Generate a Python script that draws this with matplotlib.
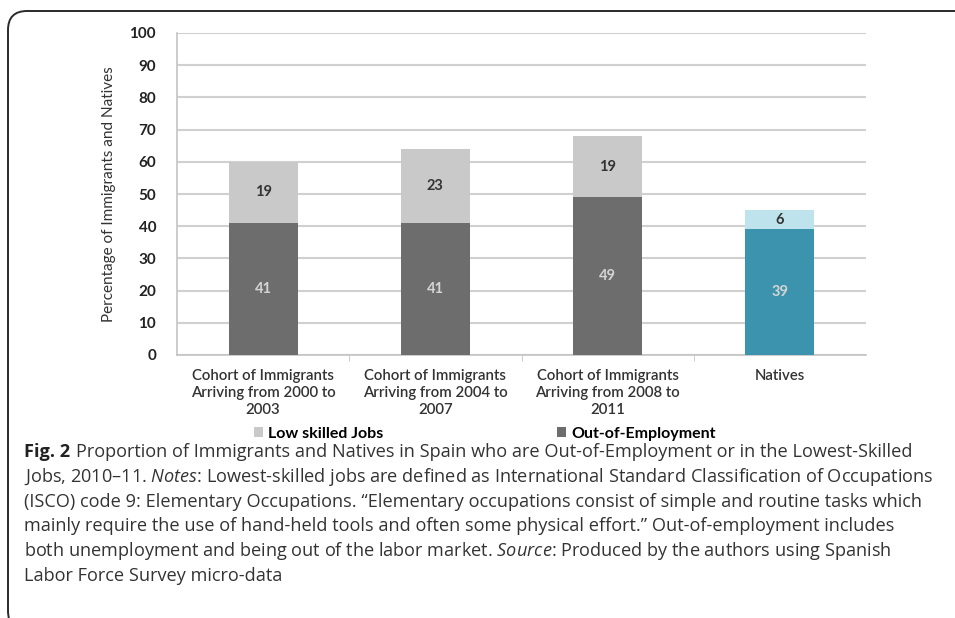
import matplotlib
matplotlib.use("Agg")
import matplotlib.pyplot as plt
from matplotlib.patches import FancyBboxPatch

categories = ["Cohort of Immigrants\nArriving from 2000 to\n2003",
              "Cohort of Immigrants\nArriving from 2004 to\n2007",
              "Cohort of Immigrants\nArriving from 2008 to\n2011",
              "Natives"]
out_of_employment = [41, 41, 49, 39]
low_skilled = [19, 23, 19, 6]

caption_lines = [
    "Proportion of Immigrants and Natives in Spain who are Out-of-Employment or in the Lowest-Skilled",
    "Jobs, 2010\u201311. $\\it{Notes}$: Lowest-skilled jobs are defined as International Standard Classification of Occupations",
    "(ISCO) code 9: Elementary Occupations. \u201cElementary occupations consist of simple and routine tasks which",
    "mainly require the use of hand-held tools and often some physical effort.\u201d Out-of-employment includes",
    "both unemployment and being out of the labor market. $\\it{Source}$: Produced by the authors using Spanish",
    "Labor Force Survey micro-data",
]

plt.rcParams['font.family'] = ['Open Sans', 'DejaVu Sans']
plt.rcParams['mathtext.fontset'] = 'custom'
plt.rcParams['mathtext.it'] = 'Open Sans:italic'
plt.rcParams['mathtext.bf'] = 'Open Sans:bold'
plt.rcParams['mathtext.rm'] = 'Open Sans'

fig = plt.figure(figsize=(9.55, 6.18), dpi=100)
W, H = 955, 618

# rounded frame around the figure panel
frame = FancyBboxPatch((8 / W, -12 / H), 1.2, 1 + 1 / H, boxstyle="round,pad=0,rounding_size=0.02",
                       transform=fig.transFigure, fill=False, edgecolor="#2a2a2a", linewidth=1.4,
                       mutation_aspect=W / H)
fig.patches.append(frame)

ax = fig.add_axes([177 / W, 1 - 355 / H, 689 / W, 322 / H])
x = range(len(categories))
dark = ["#6d6d6d", "#6d6d6d", "#6d6d6d", "#3b93ad"]
light = ["#c9c9c9", "#c9c9c9", "#c9c9c9", "#bfe3ec"]
b1 = ax.bar(x, out_of_employment, width=0.4, color=dark, label="Out-of-Employment", zorder=3)
b2 = ax.bar(x, low_skilled, width=0.4, bottom=out_of_employment, color=light,
            label="Low skilled Jobs", zorder=3)

for i in x:
    ax.text(i, out_of_employment[i] / 2, str(out_of_employment[i]), ha="center", va="center",
            fontsize=10.5, fontweight="bold", color="#d4d4d4", family=["Lato"], zorder=4)
    ax.text(i, out_of_employment[i] + low_skilled[i] / 2, str(low_skilled[i]), ha="center",
            va="center", fontsize=10.5, fontweight="bold", color="#333333", family=["Lato"], zorder=4)

ax.set_xlim(-0.5, 3.5)
ax.set_ylim(0, 100)
ax.set_yticks(range(0, 101, 10))
ax.yaxis.grid(True, color="#d0d0d0", linewidth=1.5, zorder=0)
ax.set_axisbelow(True)
for s in ["top", "right"]:
    ax.spines[s].set_visible(False)
ax.spines["left"].set_color("#c4c4c4")
ax.spines["bottom"].set_color("#c4c4c4")
ax.spines["left"].set_linewidth(1.2)
ax.spines["bottom"].set_linewidth(1.2)
ax.tick_params(axis="y", length=0, pad=15, labelsize=11, labelcolor="#222222")
for t in ax.get_yticklabels():
    t.set_fontweight("bold")
    t.set_family(["Lato"])
ax.set_xticks([i - 0.5 for i in range(1, 4)], minor=True)
ax.set_xticks(list(x))
ax.set_xticklabels(categories, fontsize=10.8, color="#333333", linespacing=1.3, family=["Lato"],
                   fontweight="semibold")
ax.tick_params(axis="x", which="major", length=0, pad=10)
ax.tick_params(axis="x", which="minor", length=4, color="#c4c4c4")
ax.set_ylabel("Percentage of Immigrants and Natives", fontsize=11, color="#333333",
              family=["Lato"], labelpad=10)

ax.legend(handles=[b2, b1], loc="center", bbox_to_anchor=(0.447, -0.245), ncol=2, frameon=False,
          handlelength=0.55, handleheight=0.55, handletextpad=0.3, columnspacing=10.9,
          prop={"family": ["Lato"], "weight": "bold", "size": 11.5})

# caption
y0 = 452
fs = 13.1
fig_lbl = fig.text(24 / W, 1 - y0 / H, "Fig. 2", fontsize=fs, fontweight="bold", va="center",
                   ha="left", color="#222222")
renderer = fig.canvas.get_renderer()
x1 = fig_lbl.get_window_extent(renderer).x1
fig.text((x1 + 6) / W, 1 - y0 / H, caption_lines[0], fontsize=fs, va="center", ha="left",
         color="#333333")
for k, line in enumerate(caption_lines[1:], start=1):
    fig.text(24 / W, 1 - (y0 + 24.8 * k) / H, line, fontsize=fs, va="center", ha="left",
             color="#333333")

fig.savefig("out.png", dpi=100)
